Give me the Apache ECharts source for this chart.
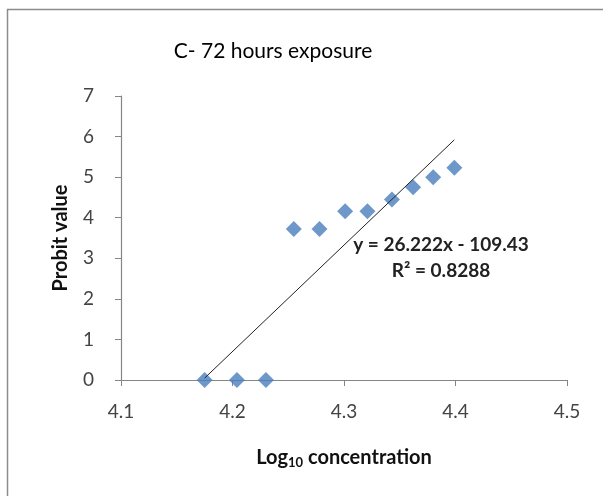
<!DOCTYPE html>
<html>
<head>
<meta charset="utf-8">
<script src="https://cdn.jsdelivr.net/npm/echarts@6/dist/echarts.min.js"></script>
<style>
  html, body { margin: 0; padding: 0; background: #fff; }
  #chart { width: 603px; height: 496px; }
</style>
</head>
<body>
<div id="chart"></div>
<script>
// log10 concentration vs probit value
const logConc = [4.175, 4.204, 4.230, 4.255, 4.278, 4.301, 4.321, 4.343, 4.362, 4.380, 4.399]
const probit = [0, 0, 0, 3.72, 3.72, 4.16, 4.16, 4.45, 4.75, 5.0, 5.23]
const xTicks = [4.1, 4.2, 4.3, 4.4, 4.5]
const yTicks = [0, 1, 2, 3, 4, 5, 6, 7]

// linear trendline shown on the chart
const slope = 26.222
const intercept = -109.43
const trendX = [logConc[0], logConc[logConc.length - 1]]

const font = 'Lato, "Open Sans", sans-serif'
const chart = echarts.init(document.getElementById('chart'))

chart.setOption({
  animation: false,
  backgroundColor: '#fff',
  graphic: [{
    type: 'rect',
    shape: { x: 7.5, y: 9.5, width: 620, height: 520 },
    style: { fill: 'none', stroke: '#8c8c8c', lineWidth: 1.5 },
    silent: true
  }, {
    type: 'text',
    x: 441,
    y: 245,
    style: {
      text: 'y = 26.222x - 109.43',
      font: 'bold 19px ' + font,
      fill: '#222',
      align: 'center',
      verticalAlign: 'middle'
    },
    z: 10
  }, {
    type: 'text',
    x: 441,
    y: 271,
    style: {
      text: 'R² = 0.8288',
      font: 'bold 19px ' + font,
      fill: '#222',
      align: 'center',
      verticalAlign: 'middle'
    },
    z: 10
  }],
  title: {
    text: 'C- 72 hours exposure',
    left: 268,
    top: 36,
    textAlign: 'center',
    textStyle: { fontFamily: font, fontSize: 21, fontWeight: 'normal', color: '#000' }
  },
  grid: { left: 121, right: 36, top: 96, bottom: 116 },
  xAxis: {
    type: 'value',
    min: xTicks[0],
    max: xTicks[xTicks.length - 1],
    interval: 0.1,
    name: '{b|Log}{s|10}{b| concentration}',
    nameLocation: 'middle',
    nameGap: 66,
    nameTextStyle: {
      rich: {
        b: { fontFamily: font, fontSize: 20, fontWeight: 'bold', color: '#111' },
        s: { fontFamily: font, fontSize: 13, fontWeight: 'bold', color: '#111', verticalAlign: 'bottom', padding: [10, 0, 0, 0] }
      }
    },
    axisLine: { lineStyle: { color: '#868686', width: 1.2 } },
    axisTick: { length: 6, lineStyle: { color: '#868686' } },
    axisLabel: {
      margin: 22,
      fontFamily: font,
      fontSize: 19,
      color: '#444',
      formatter: v => v.toFixed(1)
    },
    splitLine: { show: false }
  },
  yAxis: {
    type: 'value',
    min: yTicks[0],
    max: yTicks[yTicks.length - 1],
    interval: 1,
    name: 'Probit value',
    nameLocation: 'middle',
    nameGap: 50,
    nameTextStyle: { fontFamily: font, fontSize: 20, fontWeight: 'bold', color: '#111', letterSpacing: 2 },
    axisLine: { show: true, lineStyle: { color: '#868686', width: 1.2 } },
    axisTick: { show: true, length: 6, lineStyle: { color: '#868686' } },
    axisLabel: { margin: 27, fontFamily: font, fontSize: 19, color: '#444' },
    splitLine: { show: false }
  },
  series: [{
    name: 'Probit',
    type: 'scatter',
    symbol: 'diamond',
    symbolSize: [16, 16],
    itemStyle: { color: '#4a7ebb' },
    data: logConc.map((x, i) => [x, probit[i]]),
    z: 3
  }, {
    name: 'Trend',
    type: 'line',
    symbol: 'none',
    lineStyle: { color: '#222', width: 1 },
    data: trendX.map(x => [x, slope * x + intercept]),
    z: 4
  }]
})
</script>
</body>
</html>
